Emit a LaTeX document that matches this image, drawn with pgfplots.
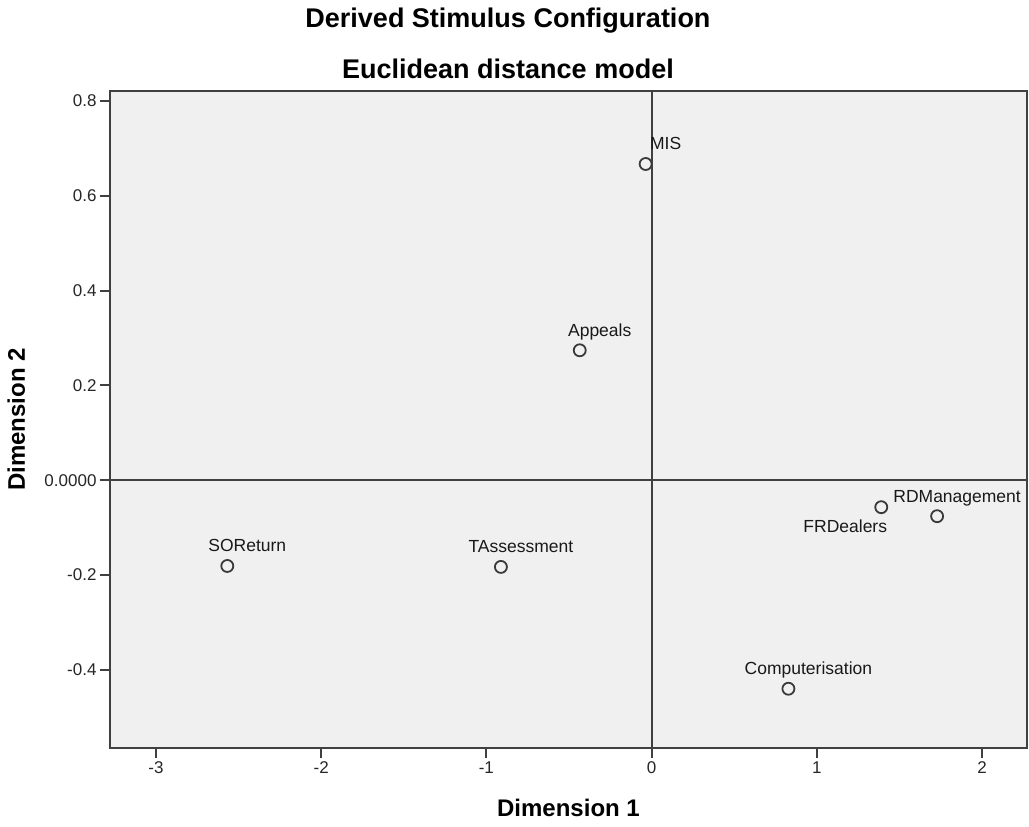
\documentclass[border=0pt]{standalone}
\usepackage{fontspec}
\setmainfont{Liberation Sans}
\usepackage{pgfplots}
\pgfplotsset{compat=1.18}
\usepackage{pgfplotstable}

\definecolor{panel}{HTML}{F0F0F0}
\definecolor{frame}{HTML}{404040}
\definecolor{markc}{HTML}{3A3A3A}

% Stimulus coordinates; dx/dy place each label relative to its point
\pgfplotstableread{
x      y      name            dx   dy
-0.036  0.667 MIS             20   14
-0.435  0.274 Appeals         20   14
-2.568 -0.181 SOReturn        20   14
-0.912 -0.183 TAssessment     20   14
 1.390 -0.057 FRDealers      -36  -25
 1.728 -0.076 RDManagement    20   14
 0.828 -0.440 Computerisation 20   14
}\stimuli

\tikzset{charttitle/.style={anchor=base, inner sep=0pt,
  font=\bfseries\fontsize{27}{32}\selectfont}}

\begin{document}
\begin{tikzpicture}
\path[use as bounding box] (-110pt,-79pt) rectangle (919pt,748pt);
\begin{axis}[
  scale only axis,
  width=917pt, height=657pt,
  xmin=-3.278, xmax=2.272,
  ymin=-0.565, ymax=0.821,
  clip=false,
  axis background/.style={fill=panel},
  axis line style={frame, line width=2pt},
  tick style={frame, line width=2pt},
  major tick length=10pt,
  tick align=outside,
  tick pos=left,
  xtick={-3,-2,-1,0,1,2},
  xticklabels={-3,-2,-1,0,1,2},
  ytick={-0.4,-0.2,0,0.2,0.4,0.6,0.8},
  yticklabels={-0.4,-0.2,0.0000,0.2,0.4,0.6,0.8},
  ticklabel style={font=\fontsize{17}{20}\selectfont, text=black!85},
  /pgf/number format/assume math mode=true,
  xlabel={Dimension 1},
  xlabel style={at={(axis description cs:0.5,0)}, anchor=base, yshift=-69pt,
    font=\bfseries\fontsize{24}{28}\selectfont},
  ylabel={Dimension 2},
  ylabel style={at={(axis description cs:-0.0927,0.5)}, anchor=base,
    font=\bfseries\fontsize{24}{28}\selectfont},
]
% two-line chart title
\node[charttitle, yshift=63pt] at (axis description cs:0.434,1) {Derived Stimulus Configuration};
\node[charttitle, yshift=12pt] at (axis description cs:0.434,1) {Euclidean distance model};

% reference lines through the origin
\draw[frame, line width=2pt] (axis cs:0,-0.565) -- (axis cs:0,0.821);
\draw[frame, line width=2pt] (axis cs:-3.278,0) -- (axis cs:2.272,0);

\addplot[only marks, mark=o, mark size=6pt, draw=markc, line width=1.8pt,
  nodes near coords, point meta=explicit symbolic,
  visualization depends on={\thisrow{dx} \as \dx},
  visualization depends on={\thisrow{dy} \as \dy},
  every node near coord/.append style={anchor=base, inner sep=0pt,
    xshift=\dx, yshift=\dy, text=black!90,
    font=\fontsize{17.5}{20}\selectfont}]
  table[x=x, y=y, meta=name]{\stimuli};
\end{axis}
\end{tikzpicture}
\end{document}
